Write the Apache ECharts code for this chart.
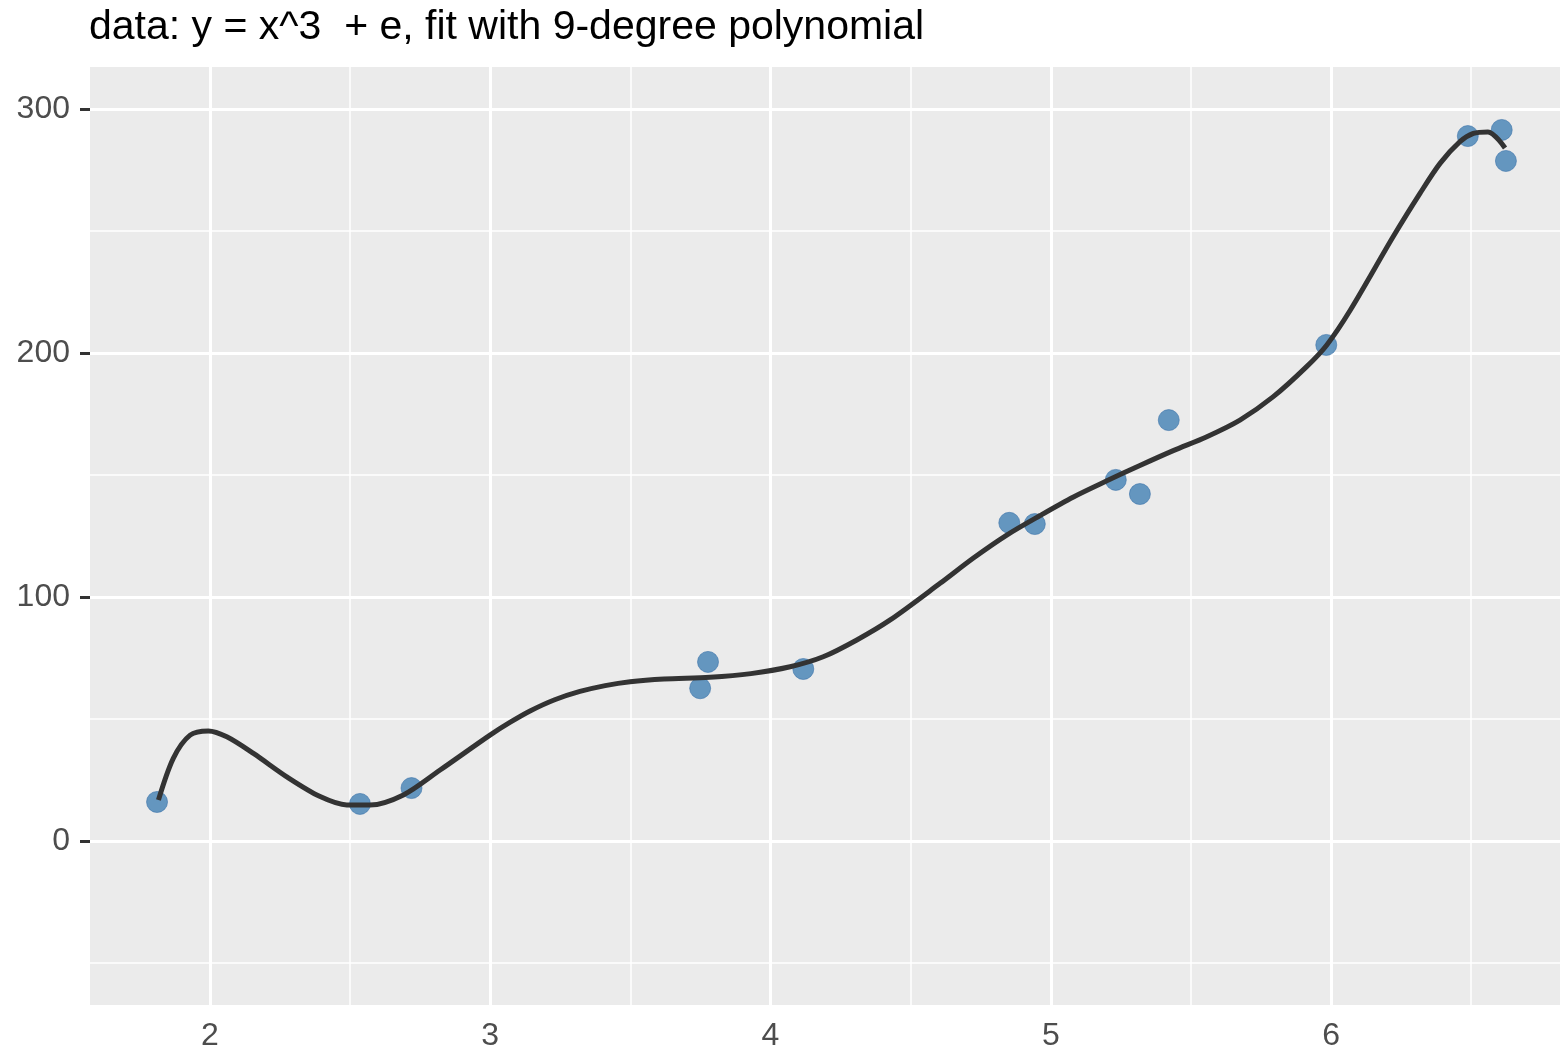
<!DOCTYPE html>
<html>

<head>
    <meta charset="UTF-8">
    <title>9-degree polynomial fit</title>
    <script type="text/javascript" src="https://cdn.jsdelivr.net/npm/echarts@6/dist/echarts.min.js"></script>
</head>

<body style="margin: 0;padding: 0;">
    <div id="container" style="width:1560px; height:1052px;"></div>
    <script>
        // observed points
        var pointX = [1.811, 2.535, 2.719, 3.749, 3.777, 4.117, 4.852, 4.943, 5.232, 5.318, 5.421, 5.983, 6.488, 6.609, 6.624];
        var pointY = [16.0, 15.2, 21.7, 62.6, 73.4, 70.5, 130.4, 129.9, 148.0, 142.2, 172.5, 203.3, 288.9, 291.4, 278.7];

        // fitted curve
        var fitX = [1.816, 1.869, 1.929, 1.994, 2.060, 2.155, 2.274, 2.393, 2.488, 2.571, 2.690, 2.821, 2.999, 3.070,
            3.142, 3.230, 3.320, 3.410, 3.499, 3.620, 3.784, 3.930, 4.070, 4.188, 4.308, 4.427, 4.605, 4.724, 4.843,
            4.962, 5.081, 5.200, 5.318, 5.437, 5.557, 5.675, 5.794, 5.913, 5.985, 6.069, 6.222, 6.318, 6.389, 6.460,
            6.508, 6.560, 6.621];
        var fitY = [16.8, 33.9, 43.4, 45.1, 42.7, 35.9, 26.3, 18.2, 14.8, 14.8, 18.9, 29.1, 43.4, 48.6,
            53.3, 57.9, 61.3, 63.7, 65.3, 66.4, 67.1, 68.6, 71.4, 75.5, 82.4, 90.6, 105.6, 116.0, 125.4,
            133.4, 141.0, 147.6, 153.9, 160.0, 165.7, 172.5, 182.1, 194.4, 203.3, 217.6, 247.7, 265.5, 277.7, 286.6,
            290.0, 290.6, 284.0];

        // axis breaks
        var xMajor = [2, 3, 4, 5, 6];
        var xMinor = [2.5, 3.5, 4.5, 5.5, 6.5];
        var yMajor = [0, 100, 200, 300];
        var yMinor = [-50, 50, 150, 250];

        var chart = echarts.init(document.getElementById('container'), null, { renderer: 'canvas' });

        var font = 'Liberation Sans, Arial, Helvetica, sans-serif';
        var gridLines = [];
        xMinor.forEach(function (v) { gridLines.push({ xAxis: v, lineStyle: { width: 1.5 } }); });
        yMinor.forEach(function (v) { gridLines.push({ yAxis: v, lineStyle: { width: 1.5 } }); });
        xMajor.forEach(function (v) { gridLines.push({ xAxis: v, lineStyle: { width: 3 } }); });
        yMajor.forEach(function (v) { gridLines.push({ yAxis: v, lineStyle: { width: 3 } }); });

        var option = {
            animation: false,
            title: {
                text: 'data: y = x^3  + e, fit with 9-degree polynomial',
                left: 84,
                top: 2,
                textStyle: { fontFamily: font, fontSize: 41, fontWeight: 'normal', color: '#000' }
            },
            grid: {
                left: 90, right: 0, top: 67, bottom: 47,
                show: true,
                backgroundColor: '#EBEBEB',
                borderWidth: 0
            },
            xAxis: {
                type: 'value',
                min: 1.5718,
                max: 6.817,
                axisLine: { show: false },
                splitLine: { show: false },
                axisTick: { show: true, length: 10, lineStyle: { color: '#333', width: 3 }, customValues: xMajor },
                axisLabel: { customValues: xMajor, fontFamily: font, fontSize: 32, color: '#4D4D4D', margin: 15 }
            },
            yAxis: {
                type: 'value',
                min: -67.2,
                max: 317.2,
                axisLine: { show: false },
                splitLine: { show: false },
                axisTick: { show: true, length: 10, lineStyle: { color: '#333', width: 3 }, customValues: yMajor },
                axisLabel: { customValues: yMajor, fontFamily: font, fontSize: 32, color: '#4D4D4D', margin: 20 }
            },
            series: [{
                type: 'line',
                data: [],
                silent: true,
                markLine: {
                    silent: true,
                    z: 1,
                    symbol: 'none',
                    label: { show: false },
                    lineStyle: { color: '#FFFFFF', type: 'solid' },
                    emphasis: { disabled: true },
                    data: gridLines
                }
            }, {
                type: 'scatter',
                z: 3,
                symbolSize: 21,
                itemStyle: { color: 'rgba(70,130,180,0.82)', opacity: 1, borderColor: 'rgba(60,115,170,0.6)', borderWidth: 1 },
                data: pointX.map(function (x, i) { return [x, pointY[i]]; })
            }, {
                type: 'line',
                z: 4,
                showSymbol: false,
                smooth: 0.3,
                lineStyle: { color: '#333333', width: 5 },
                data: fitX.map(function (x, i) { return [x, fitY[i]]; })
            }]
        };
        chart.setOption(option);
    </script>
</body>

</html>
